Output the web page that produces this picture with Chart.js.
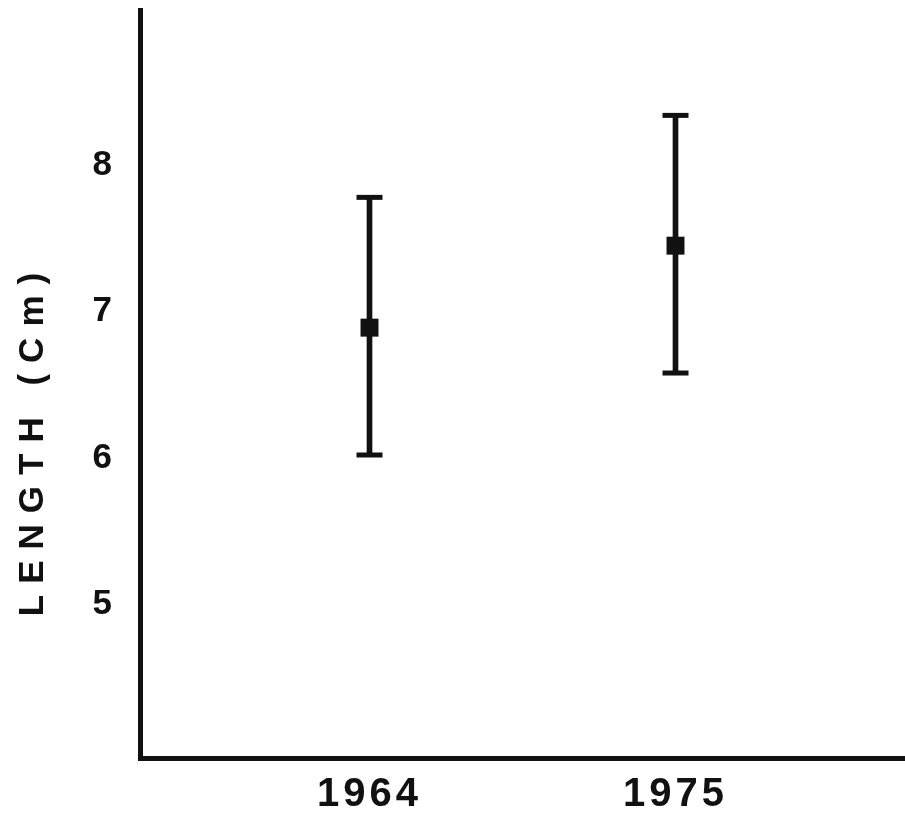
<!DOCTYPE html>
<html>
<head>
<meta charset="utf-8">
<script src="https://cdn.jsdelivr.net/npm/chart.js@4"></script>
<style>
  body { margin: 0; background: #fff; }
</style>
</head>
<body>
<canvas id="chart" width="905" height="819"></canvas>
<script>
// values
const years = ['1964', '1975'];
const yearPos = [0, 1];
const means = [6.89, 7.45];
const upper = [7.78, 8.34];
const lower = [6.02, 6.58];
const yTicks = [5, 6, 7, 8];
const yTitle = 'LENGTH (Cm)';

const FONT = "'Liberation Sans', Arial, Helvetica, sans-serif";

// vertical bars of the error bars
const barData = yearPos.map((x, i) => ({ x: x, y: [lower[i], upper[i]] }));
const capData = yearPos.map((x, i) => ({ x: x, y: upper[i] }))
  .concat(yearPos.map((x, i) => ({ x: x, y: lower[i] })));
const meanData = yearPos.map((x, i) => ({ x: x, y: means[i] }));

function noPadding(axis) {
  axis.paddingTop = 0;
  axis.paddingBottom = 0;
  axis.paddingLeft = 0;
  axis.paddingRight = 0;
}

const titlePlugin = {
  id: 'sideTitle',
  beforeDraw(chart) {
    chart.ctx.letterSpacing = '4px';
  },
  afterDraw(chart) {
    const ctx = chart.ctx;
    ctx.save();
    ctx.letterSpacing = '11px';
    ctx.font = 'bold 35px ' + FONT;
    ctx.fillStyle = '#111';
    ctx.textAlign = 'center';
    ctx.textBaseline = 'middle';
    ctx.translate(33, 439);
    ctx.rotate(-Math.PI / 2);
    ctx.fillText(yTitle, 0, 0);
    ctx.restore();
  }
};

const config = {
  type: 'scatter',
  data: {
    datasets: [
      {
        type: 'bar',
        data: barData,
        backgroundColor: '#111',
        borderWidth: 0,
        barThickness: 5,
        order: 3
      },
      {
        data: capData,
        pointStyle: 'line',
        pointRadius: 13,
        borderColor: '#111',
        borderWidth: 5,
        order: 2
      },
      {
        data: meanData,
        pointStyle: 'rect',
        pointRadius: 12.7,
        backgroundColor: '#111',
        borderColor: '#111',
        borderWidth: 0,
        order: 1
      }
    ]
  },
  options: {
    responsive: false,
    animation: false,
    layout: { autoPadding: false, padding: { top: 10, right: 0 } },
    plugins: {
      legend: { display: false },
      tooltip: { enabled: false }
    },
    scales: {
      x: {
        type: 'linear',
        min: -0.75,
        max: 1.75,
        offset: false,
        grid: { display: false, drawTicks: false, offset: false },
        border: { display: true, color: '#111', width: 5 },
        afterBuildTicks: (axis) => { axis.ticks = yearPos.map(v => ({ value: v })); },
        afterFit: (axis) => { axis.height = 61; noPadding(axis); },
        ticks: {
          padding: 13,
          color: '#111',
          font: { family: FONT, size: 40, weight: 'bold' },
          callback: (v) => years[yearPos.indexOf(v)]
        }
      },
      y: {
        min: 3.95,
        max: 9.06,
        grid: { display: false, drawTicks: false },
        border: { display: true, color: '#111', width: 5 },
        afterBuildTicks: (axis) => { axis.ticks = yTicks.map(v => ({ value: v })); },
        afterFit: (axis) => { axis.width = 140; noPadding(axis); },
        ticks: {
          padding: 24,
          color: '#111',
          font: { family: FONT, size: 35, weight: 'bold' }
        }
      }
    }
  },
  plugins: [titlePlugin]
};

let ctx = document.getElementById('chart').getContext('2d');
new Chart(ctx, config);
</script>
</body>
</html>
